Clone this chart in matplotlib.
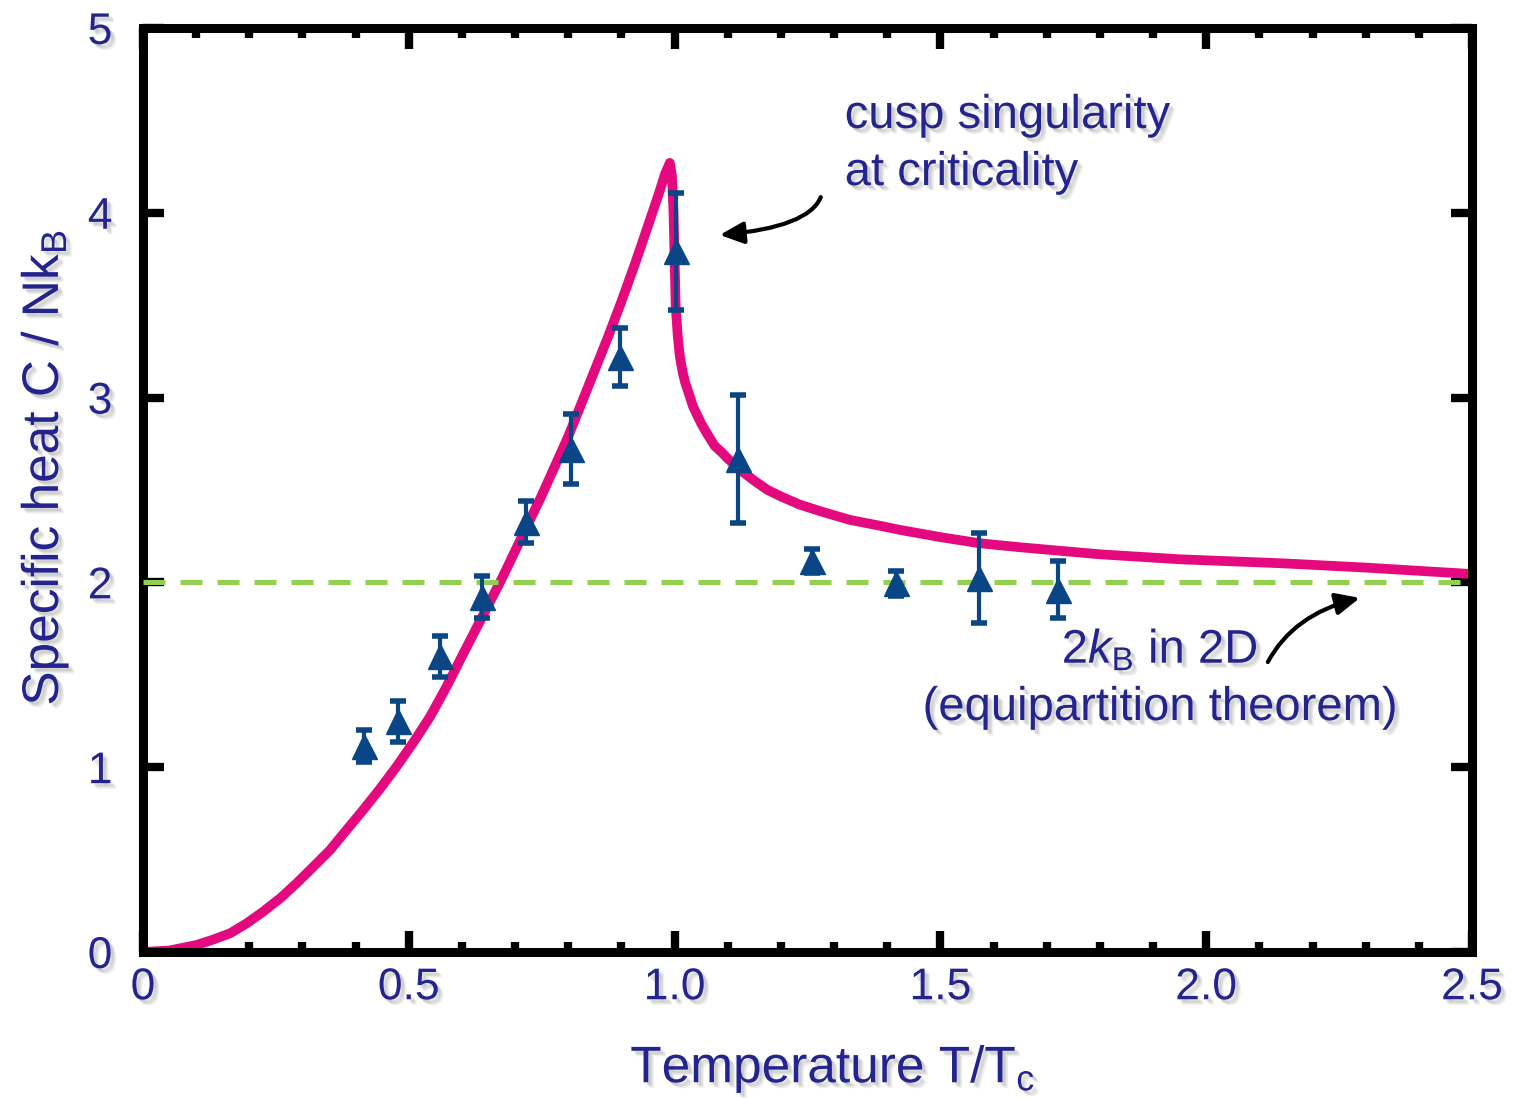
import matplotlib
matplotlib.use('Agg')
import matplotlib.pyplot as plt
import matplotlib.patheffects as pe
from matplotlib.ticker import MultipleLocator

t_exp = [0.416, 0.479, 0.559, 0.637, 0.720, 0.806, 0.897, 1.003, 1.119, 1.259, 1.416, 1.573, 1.721]
c_exp = [1.116, 1.248, 1.599, 1.920, 2.328, 2.722, 3.219, 3.792, 2.667, 2.116, 1.995, 2.024, 1.960]
c_err = [0.086, 0.110, 0.113, 0.115, 0.113, 0.190, 0.156, 0.317, 0.347, 0.063, 0.069, 0.245, 0.155]

# theory curve
t_theory = [0.0, 0.05, 0.101, 0.13, 0.164, 0.195, 0.226, 0.26, 0.289, 0.32, 0.352, 0.38, 0.414,
            0.445, 0.477, 0.51, 0.54, 0.57, 0.6, 0.625, 0.65, 0.675, 0.7, 0.725, 0.75, 0.775,
            0.8, 0.825, 0.85, 0.875, 0.9, 0.925, 0.95, 0.97, 0.982, 0.991, 0.995, 0.998, 1.0,
            1.002, 1.006, 1.01, 1.015, 1.02, 1.027, 1.035, 1.05, 1.06, 1.075, 1.09, 1.1, 1.125,
            1.15, 1.175, 1.2, 1.236, 1.28, 1.33, 1.38, 1.424, 1.5, 1.573, 1.65, 1.8, 1.95,
            2.145, 2.3, 2.5]
c_theory = [0.0, 0.008, 0.038, 0.065, 0.101, 0.155, 0.218, 0.295, 0.372, 0.46, 0.552, 0.65, 0.768,
            0.88, 1.003, 1.14, 1.273, 1.43, 1.6, 1.74, 1.88, 2.02, 2.17, 2.32, 2.47, 2.63,
            2.79, 2.97, 3.15, 3.33, 3.52, 3.72, 3.93, 4.1, 4.21, 4.27, 4.2, 4.0, 3.75,
            3.5, 3.33, 3.22, 3.14, 3.08, 3.02, 2.95, 2.86, 2.81, 2.74, 2.70, 2.67, 2.605,
            2.55, 2.5, 2.465, 2.42, 2.38, 2.338, 2.31, 2.284, 2.245, 2.212, 2.19, 2.152, 2.125,
            2.103, 2.08, 2.045]

equipartition = 2.0

x_ticks = [0, 0.5, 1.0, 1.5, 2.0, 2.5]
x_ticklabels = ['0', '0.5', '1.0', '1.5', '2.0', '2.5']
y_ticks = [0, 1, 2, 3, 4, 5]

text_color = '#24248e'
plt.rcParams['font.family'] = ['Liberation Sans', 'DejaVu Sans']
plt.rcParams['mathtext.fontset'] = 'custom'
plt.rcParams['mathtext.rm'] = 'Liberation Sans'
plt.rcParams['mathtext.it'] = 'Liberation Sans:italic'

shadow = [pe.SimplePatchShadow(offset=(2, -2), shadow_rgbFace='#777777', alpha=0.15),
          pe.SimplePatchShadow(offset=(3, -3), shadow_rgbFace='#777777', alpha=0.15),
          pe.SimplePatchShadow(offset=(4, -4), shadow_rgbFace='#777777', alpha=0.12),
          pe.Normal()]

fig = plt.figure(figsize=(15.13, 10.98), dpi=100)
ax = fig.add_axes([0.0945, 0.133, 0.8784, 0.8415])

ax.plot(t_theory, c_theory, color='#e5097f', lw=7, solid_joinstyle='round',
        solid_capstyle='round', zorder=2)
ax.axhline(equipartition, color='#92d050', lw=3.6, dashes=(4.4, 3.0), zorder=3)
ax.errorbar(t_exp, c_exp, yerr=c_err, fmt='^', color='#0a4686', ms=18, mec='#0a4686',
            elinewidth=3, capsize=6, capthick=4, zorder=4)

ax.set_xlim(0, 2.5)
ax.set_ylim(0, 5)
ax.set_xticks(x_ticks)
ax.set_xticklabels(x_ticklabels)
ax.set_yticks(y_ticks)
ax.xaxis.set_minor_locator(MultipleLocator(0.1))

for sp in ax.spines.values():
    sp.set_linewidth(6.5)
ax.tick_params(which='both', direction='in', top=True, right=True, colors='black',
               labelcolor=text_color, labelsize=32, width=6)
ax.tick_params(axis='x', which='major', length=15, pad=11)
ax.tick_params(axis='x', which='minor', length=7.5)
ax.tick_params(axis='y', which='major', length=15, pad=22)

for lab in ax.get_xticklabels() + ax.get_yticklabels():
    lab.set_path_effects(shadow)

ax.set_xlabel('Temperature T/T$_\\mathrm{c}$', fontsize=37, color=text_color, path_effects=shadow)
ax.set_ylabel('Specific heat C / Nk$_\\mathrm{B}$', fontsize=37, color=text_color, path_effects=shadow)
ax.xaxis.set_label_coords(0.519, -0.098)
ax.yaxis.set_label_coords(-0.054, 0.524)

# annotations
ax.text(1.32, 4.459, 'cusp singularity', fontsize=34, color=text_color, ha='left',
        va='baseline', path_effects=shadow)
ax.text(1.32, 4.15, 'at criticality', fontsize=34, color=text_color, ha='left',
        va='baseline', path_effects=shadow)
ax.text(1.913, 1.564, '2$k_\\mathrm{B}$ in 2D', fontsize=34, color=text_color, ha='center',
        va='baseline', path_effects=shadow)
ax.text(1.913, 1.255, '(equipartition theorem)', fontsize=34, color=text_color, ha='center',
        va='baseline', path_effects=shadow)

arrow_style = '-|>,head_length=0.48,head_width=0.22'
ax.annotate('', xy=(1.085, 3.88), xytext=(1.275, 4.085),
            arrowprops=dict(arrowstyle=arrow_style, color='black', lw=3, mutation_scale=30,
                            shrinkA=0, shrinkB=0,
                            connectionstyle='angle3,angleA=68,angleB=5'))
ax.annotate('', xy=(2.289, 1.916), xytext=(2.116, 1.569),
            arrowprops=dict(arrowstyle=arrow_style, color='black', lw=3, mutation_scale=30,
                            shrinkA=0, shrinkB=0,
                            connectionstyle='angle3,angleA=62,angleB=14'))

fig.savefig('out.png', dpi=100)
